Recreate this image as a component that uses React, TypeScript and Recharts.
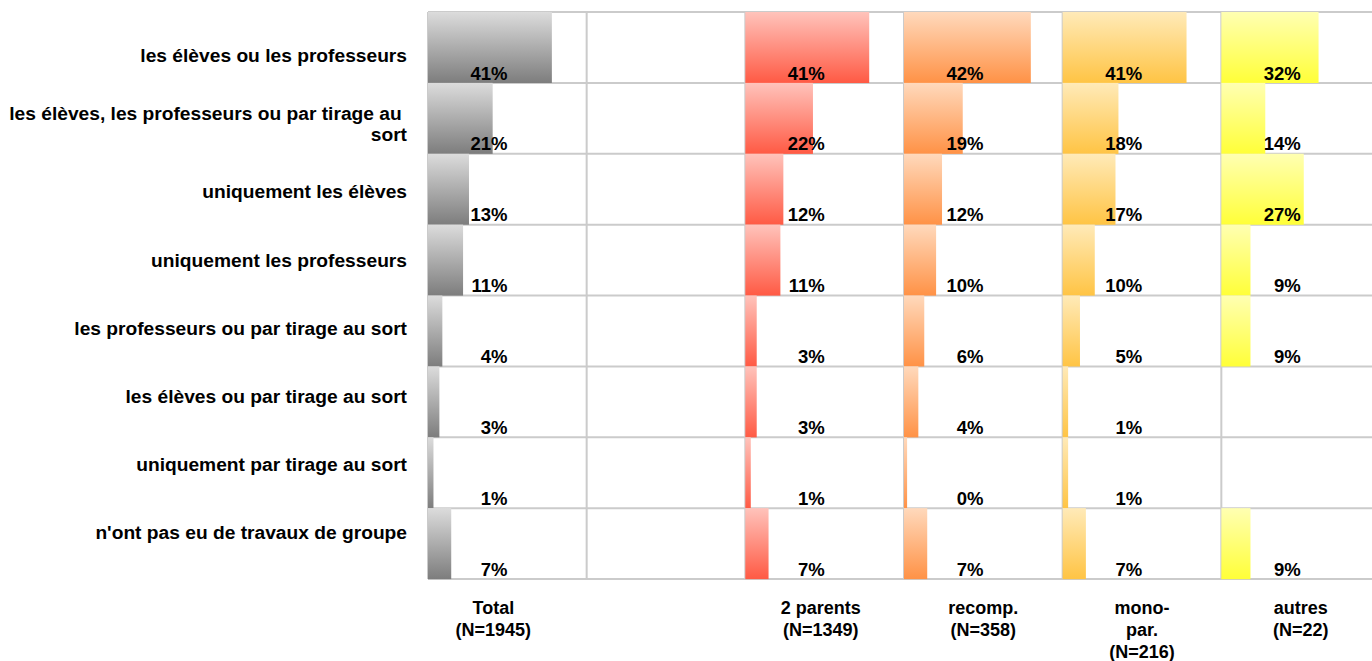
import React from "react";
import { BarChart, Bar, XAxis, YAxis, CartesianGrid, LabelList } from "recharts";

// chaque colonne = 0..53,6 %
const COL = 53.6;

const categories = [
  "les élèves ou les professeurs",
  "les élèves, les professeurs ou par tirage au sort",
  "uniquement les élèves",
  "uniquement les professeurs",
  "les professeurs ou par tirage au sort",
  "les élèves ou par tirage au sort",
  "uniquement par tirage au sort",
  "n'ont pas eu de travaux de groupe",
];

const totalVals = [41, 21, 13, 11, 4, 3, 1, 7];
const deuxParentsVals = [41, 22, 12, 11, 3, 3, 1, 7];
const recompVals = [42, 19, 12, 10, 6, 4, 0.2, 7];
const monoParVals = [41, 18, 17, 10, 5, 1, 1, 7];
const autresVals: (number | null)[] = [32, 14, 27, 9, 9, null, null, 9];

const xTickLines = [
  ["Total", "(N=1945)"],
  [],
  ["2 parents", "(N=1349)"],
  ["recomp.", "(N=358)"],
  ["mono-", "par.", "(N=216)"],
  ["autres", "(N=22)"],
];

const series = [
  { key: "total", vals: totalVals, grad: "gTotal", top: "#dcdcdc", bottom: "#7d7d7d" },
  { key: "gap", vals: null, grad: "", top: "", bottom: "" },
  { key: "p2", vals: deuxParentsVals, grad: "gP2", top: "#ffc3bb", bottom: "#ff5a44" },
  { key: "rc", vals: recompVals, grad: "gRc", top: "#ffd9bc", bottom: "#ff9246" },
  { key: "mp", vals: monoParVals, grad: "gMp", top: "#ffeab8", bottom: "#ffc444" },
  { key: "au", vals: autresVals, grad: "gAu", top: "#ffffb2", bottom: "#ffff38" },
];

const rows = categories.map((label, i) => {
  const r: any = { label };
  series.forEach((s) => {
    if (!s.vals) {
      r[s.key] = COL;
      return;
    }
    const v = s.vals[i];
    r[s.key] = v ?? 0;
    r[s.key + "Pad"] = COL - (v ?? 0);
    r[s.key + "Lbl"] = v == null ? null : Math.round(v) + "%";
  });
  return r;
});

const FONT = "'Liberation Sans', Arial, sans-serif";

function wrap(text: string, max: number) {
  const out: string[] = [];
  let cur = "";
  text.split(" ").forEach((w) => {
    if (cur && (cur + " " + w).length > max) {
      out.push(cur + " ");
      cur = w;
    } else cur = cur ? cur + " " + w : w;
  });
  if (cur) out.push(cur);
  return out;
}

const YTick = (props: any) => {
  const { x, y, payload } = props;
  const idx = categories.indexOf(payload.value);
  const lines = wrap(payload.value, 44);
  const base = y + 14.5 - 2.68 * idx - (lines.length - 1) * 10.5;
  return (
    <g>
      {lines.map((l, j) => (
        <text key={j} x={x} y={base + j * 21} textAnchor="end" xmlSpace="preserve" fontFamily={FONT} fontWeight="bold" fontSize={19.2} fill="#000">
          {l}
        </text>
      ))}
    </g>
  );
};

const XTick = (props: any) => {
  const { x, y, payload } = props;
  const idx = Math.round(payload.value / COL - 0.5);
  const lines = xTickLines[idx] || [];
  const dx = idx === 0 ? -14 : idx === 2 ? -4 : 0;
  return (
    <g>
      {lines.map((l, j) => (
        <text key={j} x={x + dx} y={y + 35 + j * 22} textAnchor="middle" fontFamily={FONT} fontWeight="bold" fontSize={18} fill="#000">
          {l}
        </text>
      ))}
    </g>
  );
};

// les barres de l'original débordent d'environ 2,5 px à droite
const GradBar = (props: any) => {
  const { x, y, width, height, fill } = props;
  if (!width || width <= 0) return null;
  return <rect x={x} y={y} width={width + 2.5} height={height} fill={fill} />;
};

const renderPct = (props: any) => {
  const { x, y, height, value } = props;
  if (value == null) return null;
  return (
    <text x={Number(x) + 79.5} y={Number(y) + Number(height) - 3.5} textAnchor="end" fontFamily={FONT} fontWeight="bold" fontSize={18.5} fill="#000">
      {value}
    </text>
  );
};

export default function App() {
  return (
    <div style={{ position: "fixed", left: 0, top: 0, width: 1372, height: 661, overflow: "hidden", background: "#fff" }}>
      <BarChart
        width={1380}
        height={661}
        data={rows}
        layout="vertical"
        margin={{ top: 12, right: 0, bottom: 0, left: 0 }}
        barCategoryGap={0}
        barGap={0}
      >
        <defs>
          {series
            .filter((s) => s.grad)
            .map((s) => (
              <linearGradient key={s.grad} id={s.grad} x1="0" y1="0" x2="0" y2="1">
                <stop offset="0%" stopColor={s.top} />
                <stop offset="100%" stopColor={s.bottom} />
              </linearGradient>
            ))}
        </defs>
        <CartesianGrid
          stroke="#cbcbcb"
          strokeWidth={2}
          horizontalCoordinatesGenerator={({ offset }: any) =>
            Array.from({ length: 9 }, (_, i) => offset.top + (i * offset.height) / 8)
          }
          verticalCoordinatesGenerator={({ offset }: any) =>
            Array.from({ length: 7 }, (_, i) => offset.left + (i * offset.width) / 6)
          }
        />
        <XAxis
          type="number"
          domain={[0, COL * 6]}
          ticks={series.map((_, i) => (i + 0.5) * COL)}
          interval={0}
          axisLine={false}
          tickLine={false}
          tickSize={0}
          tickMargin={0}
          height={82}
          tick={<XTick />}
        />
        <YAxis
          type="category"
          dataKey="label"
          width={428}
          axisLine={false}
          tickLine={false}
          tickSize={0}
          tickMargin={21}
          interval={0}
          tick={<YTick />}
        />
        {series.flatMap((s) =>
          s.vals
            ? [
                <Bar key={s.key} dataKey={s.key} stackId="a" fill={`url(#${s.grad})`} shape={<GradBar />} isAnimationActive={false}>
                  <LabelList dataKey={s.key + "Lbl"} content={renderPct} />
                </Bar>,
                <Bar key={s.key + "Pad"} dataKey={s.key + "Pad"} stackId="a" fill="transparent" isAnimationActive={false} />,
              ]
            : [<Bar key={s.key} dataKey={s.key} stackId="a" fill="transparent" isAnimationActive={false} />]
        )}
      </BarChart>
    </div>
  );
}
